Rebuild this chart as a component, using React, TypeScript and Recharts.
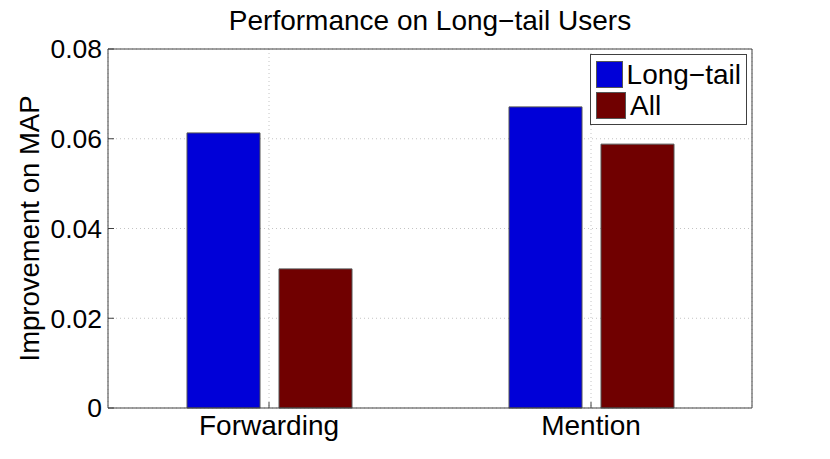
import { BarChart, Bar, XAxis, YAxis, CartesianGrid, Legend } from 'recharts';

const CATEGORIES = ['Forwarding', 'Mention'];
const LONG_TAIL = [0.0613, 0.0671];
const ALL = [0.031, 0.0588];
const Y_TICKS = [0, 0.02, 0.04, 0.06, 0.08];

const SERIES = [
  { key: 'longTail', name: 'Long\u2212tail', color: '#0000d8' },
  { key: 'all', name: 'All', color: '#700000' },
];

const data = CATEGORIES.map((c, i) => ({ name: c, longTail: LONG_TAIL[i], all: ALL[i] }));

const FONT = '"Liberation Sans", Arial, Helvetica, sans-serif';
const AXIS = '#404040';
const fmtTick = (v: number) => (v === 0 ? '0' : v.toFixed(2));

function LegendBox() {
  return (
    <div
      style={{
        border: '1px solid #404040',
        background: '#fff',
        padding: '4px 5px',
        boxSizing: 'border-box',
        width: 157,
        height: 71,
        fontFamily: FONT,
      }}
    >
      {SERIES.map((s) => (
        <div key={s.key} style={{ display: 'flex', alignItems: 'center', height: 31 }}>
          <span
            style={{
              display: 'inline-block',
              width: 30,
              height: 27,
              background: s.color,
              border: '1px solid #555',
              boxSizing: 'border-box',
              marginRight: 4,
            }}
          />
          <span style={{ fontSize: 28, color: '#000', lineHeight: '28px' }}>{s.name}</span>
        </div>
      ))}
    </div>
  );
}

export default function App() {
  return (
    <div style={{ position: 'absolute', left: 0, top: 0, width: 830, height: 459, background: '#fff' }}>
      <div
        style={{
          position: 'absolute',
          left: 108,
          width: 644,
          top: 5,
          textAlign: 'center',
          fontFamily: FONT,
          fontSize: 28,
          lineHeight: 'normal',
          color: '#000',
        }}
      >
        Performance on Long{'\u2212'}tail Users
      </div>
      <BarChart
        width={830}
        height={459}
        data={data}
        margin={{ top: 48, right: 77, bottom: 11, left: 48 }}
        barGap={19}
        barCategoryGap={78}
        style={{ fontFamily: FONT }}
      >
        <CartesianGrid stroke="#c4c4c4" strokeDasharray="1 3" xAxisId="bottom" yAxisId="left" />
        <XAxis
          dataKey="name"
          xAxisId="bottom"
          stroke={AXIS}
          tickSize={-6}
          tickMargin={13}
          tick={{ fontSize: 28, fill: '#000' }}
          height={40}
        />
        <XAxis dataKey="name" xAxisId="top" orientation="top" stroke={AXIS} tick={false} tickSize={-6} height={1} />
        <YAxis
          yAxisId="left"
          domain={[0, 0.08]}
          ticks={Y_TICKS}
          tickFormatter={fmtTick}
          stroke={AXIS}
          tickSize={-6}
          tickMargin={12}
          tick={{ fontSize: 26.5, fill: '#000' }}
          width={60}
          label={{
            value: 'Improvement on MAP',
            angle: -90,
            position: 'center',
            dx: -49,
            style: { fontSize: 27.5, fill: '#000', textAnchor: 'middle' },
          }}
        />
        <YAxis
          yAxisId="right"
          orientation="right"
          domain={[0, 0.08]}
          ticks={Y_TICKS}
          stroke={AXIS}
          tick={false}
          tickSize={-6}
          width={1}
        />
        <Legend
          layout="vertical"
          align="center"
          verticalAlign="middle"
          wrapperStyle={{ left: 590, top: 54, width: 157 }}
          content={() => <LegendBox />}
        />
        {SERIES.map((s) => (
          <Bar
            key={s.key}
            dataKey={s.key}
            name={s.name}
            fill={s.color}
            stroke="#555"
            strokeWidth={1}
            xAxisId="bottom"
            yAxisId="left"
            barSize={73}
            isAnimationActive={false}
          />
        ))}
      </BarChart>
    </div>
  );
}
